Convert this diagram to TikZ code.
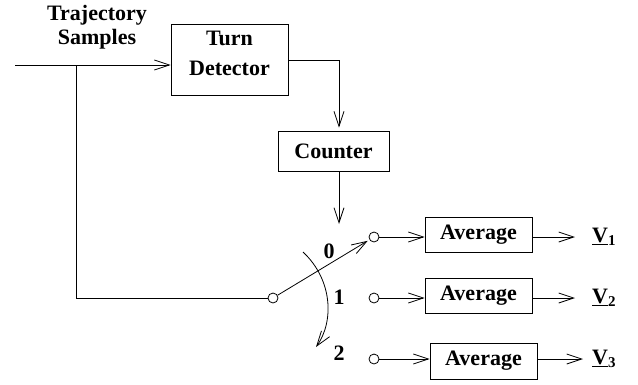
\documentclass[tikz,border=0pt]{standalone}
\usepackage{fontspec}
\setmainfont{Liberation Serif}
\usetikzlibrary{arrows.meta}
\tikzset{
  blk/.style={draw, line width=0.9pt, inner sep=0pt, align=center, font=\bfseries\fontsize{22}{30}\selectfont},
  lbl/.style={inner sep=0pt, align=center, font=\bfseries\fontsize{22}{24}\selectfont},
  pin/.style={draw, circle, minimum size=10pt, inner sep=0pt, line width=0.8pt},
  wire/.style={line width=0.8pt},
  >={Straight Barb[length=15pt,width=10pt,line width=0.8pt]}
}
\newcommand{\outv}[1]{\underline{V}\raisebox{-3pt}{\fontsize{15}{15}\selectfont #1}}
\begin{document}
\begin{tikzpicture}[x=1pt,y=1pt,yscale=-1]
  \useasboundingbox (0,0) rectangle (638,384);
  % blocks
  \node [lbl] (samples) at (97,27) {Trajectory\\Samples};
  \node [blk, minimum width=117pt, minimum height=71pt,
    label={[blk, draw=none, yshift=7pt]center:Turn\\Detector}] (turn) at (229.5,60) {};
  \node [blk, minimum width=111pt, minimum height=40pt] (counter) at (333.5,151) {Counter};
  \node [blk, minimum width=107pt, minimum height=35pt] (avgA) at (478.5,234.5) {Average};
  \node [blk, minimum width=107pt, minimum height=35pt] (avgB) at (478.5,295.5) {Average};
  \node [blk, minimum width=107pt, minimum height=36pt] (avgC) at (483.5,361) {Average};
  % switch
  \node [pin] (pivot) at (273,298) {};
  \node [pin] (pinA) at (374,237) {};
  \node [pin] (pinB) at (374,298) {};
  \node [pin] (pinC) at (374,359) {};
  \node [lbl] (posA) at (329,251) {0};
  \node [lbl] (posB) at (339,297) {1};
  \node [lbl] (posC) at (339,353) {2};
  % outputs
  \node [lbl, anchor=west] (vA) at (592,237) {\outv{1}};
  \node [lbl, anchor=west] (vB) at (592,298) {\outv{2}};
  \node [lbl, anchor=west] (vC) at (592,359) {\outv{3}};
  \coordinate (in) at (15,65);
  \coordinate (split) at (76,65);
  \coordinate (sel) at (339,224);
  \coordinate (arcS) at (303,252);
  \coordinate (arcE) at (316,347);

  \draw [wire,->] (in) -- (turn.west |- in);
  \draw [wire] (split) |- (pivot);
  \draw [wire,->,shorten >=3pt] (turn.east) -| ([xshift=5.5pt]counter.north);
  \draw [wire,->] ([xshift=5.5pt]counter.south) -- (sel);
  \draw [wire,->,shorten >=2pt] (pivot) -- (pinA);
  \draw [wire,->] (arcS) .. controls (333,280) and (334,322) .. (arcE);
  \draw [wire,->] (pinA) -- (pinA -| avgA.west);
  \draw [wire,->] (pinB) -- (pinB -| avgB.west);
  \draw [wire,->] (pinC) -- (pinC -| avgC.west);
  \draw [wire,->,shorten >=17pt] (avgA.east |- vA) -- (vA.west);
  \draw [wire,->,shorten >=17pt] (avgB.east |- vB) -- (vB.west);
  \draw [wire,->,shorten >=9pt] (avgC.east |- vC) -- (vC.west);
\end{tikzpicture}
\end{document}
